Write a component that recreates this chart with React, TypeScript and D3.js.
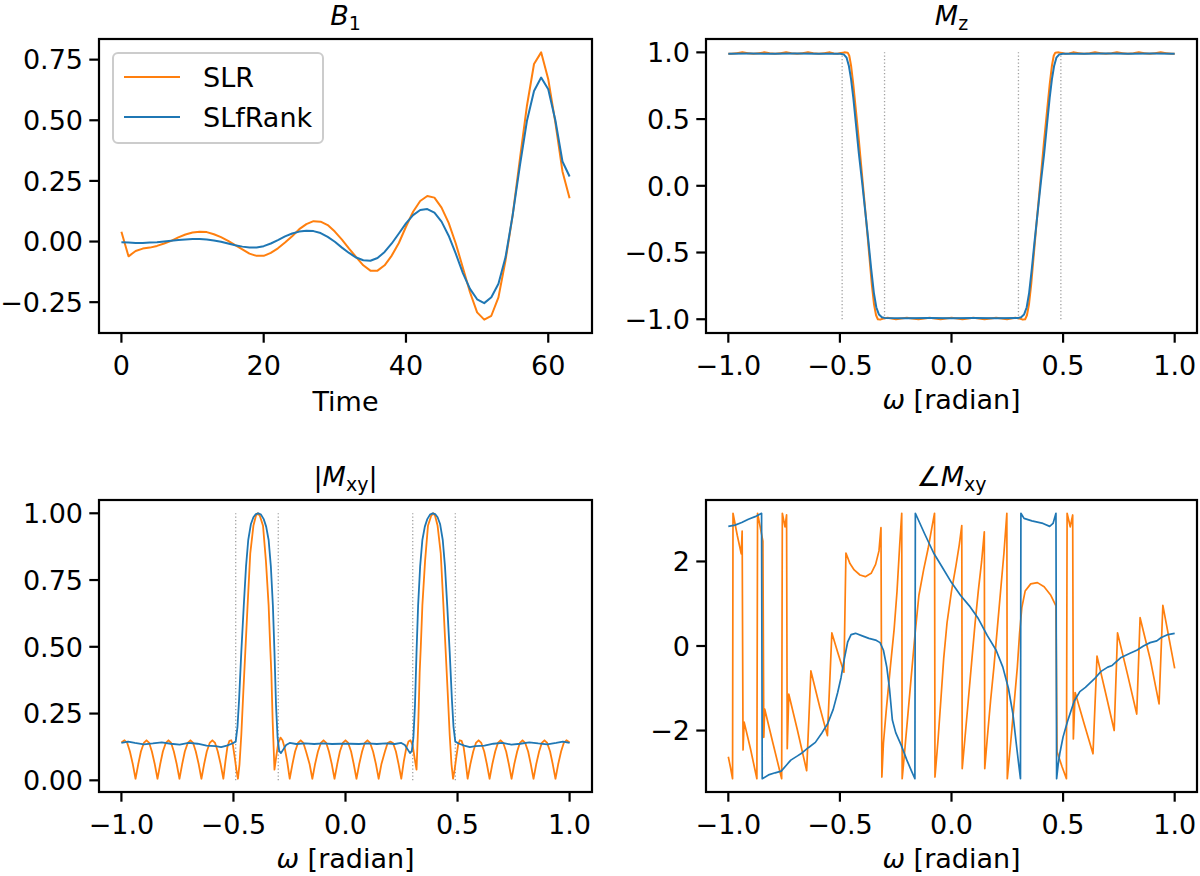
import React from "react";
import * as d3 from "d3";

// ---------------- DATA ----------------
// B1 waveforms, sample index 0..63
const B1_SLR = [
  0.04, -0.061, -0.039, -0.029, -0.025, -0.018, -0.008, 0.003, 0.017, 0.029,
  0.037, 0.04, 0.039, 0.03, 0.018, 0.003, -0.015, -0.032, -0.05, -0.059,
  -0.059, -0.047, -0.028, -0.004, 0.022, 0.051, 0.072, 0.084, 0.082, 0.068,
  0.041, 0.008, -0.029, -0.064, -0.098, -0.12, -0.12, -0.098, -0.058, -0.006,
  0.061, 0.123, 0.167, 0.188, 0.181, 0.14, 0.077, -0.008, -0.108, -0.209,
  -0.292, -0.322, -0.306, -0.23, -0.077, 0.109, 0.337, 0.559, 0.732, 0.78,
  0.669, 0.49, 0.289, 0.178,
];
const B1_SLFRANK = [
  -0.003, -0.004, -0.006, -0.006, -0.004, -0.003, 0.0, 0.003, 0.006, 0.008,
  0.01, 0.01, 0.008, 0.004, -0.001, -0.008, -0.015, -0.021, -0.025, -0.025,
  -0.019, -0.008, 0.006, 0.021, 0.033, 0.041, 0.044, 0.043, 0.035, 0.019,
  -0.001, -0.025, -0.047, -0.066, -0.077, -0.079, -0.068, -0.043, -0.008, 0.033,
  0.075, 0.109, 0.13, 0.134, 0.119, 0.082, 0.024, -0.05, -0.13, -0.195,
  -0.238, -0.254, -0.23, -0.174, -0.064, 0.109, 0.31, 0.497, 0.621, 0.676,
  0.628, 0.5, 0.33, 0.268,
];

// Mz vs omega: [omega, Mz]
const MZ_SLR: [number, number][] = [
  [-1.0, 0.99], [-0.986, 0.989], [-0.962, 0.994], [-0.937, 1.0], [-0.912, 0.994], [-0.888, 0.989],
  [-0.864, 0.994], [-0.839, 1.0], [-0.815, 0.994], [-0.79, 0.989], [-0.766, 0.994], [-0.741, 1.0],
  [-0.717, 0.994], [-0.692, 0.989], [-0.668, 0.994], [-0.643, 1.0], [-0.619, 0.994], [-0.594, 0.989],
  [-0.57, 0.994], [-0.545, 1.0], [-0.527, 0.992], [-0.51, 0.989], [-0.495, 0.996], [-0.48, 1.0],
  [-0.465, 0.998], [-0.458, 0.975], [-0.45, 0.9], [-0.44, 0.76], [-0.428, 0.56], [-0.415, 0.34],
  [-0.403, 0.12], [-0.392, -0.08], [-0.38, -0.3], [-0.368, -0.53], [-0.357, -0.74], [-0.347, -0.89],
  [-0.338, -0.97], [-0.33, -1.0], [-0.32, -1.003], [-0.305, -0.995], [-0.286, -0.989], [-0.267, -0.994],
  [-0.249, -1.0], [-0.225, -0.994], [-0.2, -0.989], [-0.176, -0.994], [-0.148, -1.0], [-0.123, -0.994],
  [-0.098, -0.989], [-0.074, -0.994], [-0.049, -1.0], [-0.025, -0.994], [0.0, -0.989], [0.025, -0.994],
  [0.049, -1.0], [0.074, -0.994], [0.098, -0.989], [0.123, -0.994], [0.148, -1.0], [0.176, -0.994],
  [0.2, -0.989], [0.225, -0.994], [0.249, -1.0], [0.267, -0.994], [0.286, -0.989], [0.305, -0.995],
  [0.32, -1.003], [0.33, -1.0], [0.338, -0.97], [0.347, -0.89], [0.357, -0.74], [0.368, -0.53],
  [0.38, -0.3], [0.392, -0.08], [0.403, 0.12], [0.415, 0.34], [0.428, 0.56], [0.44, 0.76],
  [0.45, 0.9], [0.458, 0.975], [0.465, 0.998], [0.48, 1.0], [0.495, 0.996], [0.51, 0.989],
  [0.527, 0.992], [0.545, 1.0], [0.57, 0.994], [0.594, 0.989], [0.619, 0.994], [0.643, 1.0],
  [0.668, 0.994], [0.692, 0.989], [0.717, 0.994], [0.741, 1.0], [0.766, 0.994], [0.79, 0.989],
  [0.815, 0.994], [0.839, 1.0], [0.864, 0.994], [0.888, 0.989], [0.912, 0.994], [0.937, 1.0],
  [0.962, 0.994], [0.986, 0.989], [1.0, 0.99],
];
const MZ_SLFRANK: [number, number][] = [
  [-1.0, 0.99], [-0.9, 0.991], [-0.8, 0.99], [-0.7, 0.991], [-0.6, 0.99], [-0.5, 0.99],
  [-0.483, 0.985], [-0.47, 0.96], [-0.46, 0.9], [-0.45, 0.8], [-0.44, 0.66], [-0.428, 0.46],
  [-0.415, 0.24], [-0.4, 0.02], [-0.386, -0.2], [-0.372, -0.42], [-0.36, -0.62], [-0.348, -0.8],
  [-0.337, -0.91], [-0.325, -0.965], [-0.312, -0.985], [-0.3, -0.99], [-0.2, -0.992], [-0.1, -0.991],
  [0.0, -0.992], [0.1, -0.991], [0.2, -0.992], [0.3, -0.99], [0.312, -0.985], [0.325, -0.965],
  [0.337, -0.91], [0.348, -0.8], [0.36, -0.62], [0.372, -0.42], [0.386, -0.2], [0.4, 0.02],
  [0.415, 0.24], [0.428, 0.46], [0.44, 0.66], [0.45, 0.8], [0.46, 0.9], [0.47, 0.96],
  [0.483, 0.985], [0.5, 0.99], [0.6, 0.99], [0.7, 0.991], [0.8, 0.99], [0.9, 0.991], [1.0, 0.99],
];

// |Mxy| vs omega
const MXY_SLR: [number, number][] = [
  [-1.0, 0.142], [-0.986, 0.15], [-0.974, 0.14], [-0.962, 0.108], [-0.949, 0.06], [-0.937, 0.006],
  [-0.925, 0.06], [-0.913, 0.108], [-0.9, 0.14], [-0.888, 0.15], [-0.876, 0.14], [-0.864, 0.108], [-0.851, 0.06], [-0.839, 0.006],
  [-0.827, 0.06], [-0.815, 0.108], [-0.802, 0.14], [-0.79, 0.15], [-0.778, 0.14], [-0.766, 0.108], [-0.753, 0.06], [-0.741, 0.006],
  [-0.729, 0.06], [-0.717, 0.108], [-0.704, 0.14], [-0.692, 0.15], [-0.68, 0.14], [-0.668, 0.108], [-0.655, 0.06], [-0.643, 0.006],
  [-0.631, 0.06], [-0.619, 0.108], [-0.606, 0.14], [-0.594, 0.15], [-0.582, 0.14], [-0.57, 0.108], [-0.557, 0.06], [-0.545, 0.006],
  [-0.536, 0.07], [-0.527, 0.125], [-0.518, 0.148], [-0.51, 0.15], [-0.503, 0.135], [-0.495, 0.09], [-0.487, 0.04], [-0.48, 0.006],
  [-0.473, 0.06], [-0.465, 0.17], [-0.456, 0.33], [-0.446, 0.5], [-0.437, 0.654], [-0.425, 0.85], [-0.411, 0.953], [-0.4, 0.99],
  [-0.392, 1.0], [-0.382, 0.99], [-0.368, 0.953], [-0.355, 0.82], [-0.343, 0.654], [-0.336, 0.5], [-0.331, 0.405], [-0.325, 0.22],
  [-0.317, 0.04], [-0.309, 0.09], [-0.3, 0.14], [-0.29, 0.16], [-0.281, 0.15], [-0.271, 0.12], [-0.26, 0.07], [-0.249, 0.006],
  [-0.237, 0.06], [-0.225, 0.108], [-0.212, 0.14], [-0.2, 0.15], [-0.188, 0.14], [-0.176, 0.108], [-0.16, 0.06], [-0.148, 0.006],
  [-0.136, 0.06], [-0.123, 0.108], [-0.11, 0.14], [-0.098, 0.15], [-0.086, 0.14], [-0.074, 0.108], [-0.061, 0.06], [-0.049, 0.006],
  [-0.037, 0.06], [-0.025, 0.108], [-0.012, 0.14], [0.0, 0.15], [0.012, 0.14], [0.025, 0.108], [0.037, 0.06], [0.049, 0.006],
  [0.061, 0.06], [0.074, 0.108], [0.086, 0.14], [0.098, 0.15], [0.11, 0.14], [0.123, 0.108], [0.136, 0.06], [0.148, 0.006],
  [0.16, 0.06], [0.176, 0.108], [0.188, 0.14], [0.2, 0.145], [0.212, 0.14], [0.225, 0.108], [0.237, 0.06], [0.249, 0.006],
  [0.26, 0.07], [0.271, 0.12], [0.281, 0.145], [0.29, 0.15], [0.3, 0.13], [0.309, 0.08], [0.317, 0.04],
  [0.325, 0.22], [0.331, 0.405], [0.336, 0.5], [0.343, 0.654], [0.355, 0.82], [0.368, 0.953], [0.382, 0.99], [0.392, 1.0],
  [0.4, 0.99], [0.411, 0.953], [0.425, 0.85], [0.437, 0.654], [0.446, 0.5], [0.456, 0.33], [0.465, 0.17], [0.473, 0.06], [0.48, 0.006],
  [0.487, 0.04], [0.495, 0.09], [0.503, 0.135], [0.51, 0.15], [0.518, 0.148], [0.527, 0.125], [0.536, 0.07], [0.545, 0.006],
  [0.557, 0.06], [0.57, 0.108], [0.582, 0.14], [0.594, 0.15], [0.606, 0.14], [0.619, 0.108], [0.631, 0.06], [0.643, 0.006],
  [0.655, 0.06], [0.668, 0.108], [0.68, 0.14], [0.692, 0.15], [0.704, 0.14], [0.717, 0.108], [0.729, 0.06], [0.741, 0.006],
  [0.753, 0.06], [0.766, 0.108], [0.778, 0.14], [0.79, 0.15], [0.802, 0.14], [0.815, 0.108], [0.827, 0.06], [0.839, 0.006],
  [0.851, 0.06], [0.864, 0.108], [0.876, 0.14], [0.888, 0.15], [0.9, 0.14], [0.913, 0.108], [0.925, 0.06], [0.937, 0.006],
  [0.949, 0.06], [0.962, 0.108], [0.974, 0.14], [0.986, 0.15], [1.0, 0.142],
];
const MXY_SLFRANK: [number, number][] = [
  [-1.0, 0.14], [-0.97, 0.145], [-0.94, 0.14], [-0.9, 0.135], [-0.86, 0.138], [-0.82, 0.142], [-0.78, 0.137],
  [-0.74, 0.134], [-0.7, 0.14], [-0.66, 0.137], [-0.62, 0.13], [-0.58, 0.128], [-0.555, 0.124], [-0.53, 0.13],
  [-0.505, 0.138], [-0.49, 0.145], [-0.482, 0.2], [-0.475, 0.3], [-0.465, 0.48], [-0.454, 0.654], [-0.444, 0.8],
  [-0.434, 0.9], [-0.422, 0.96], [-0.411, 0.985], [-0.4, 0.997], [-0.389, 1.0], [-0.377, 0.995], [-0.365, 0.978],
  [-0.354, 0.95], [-0.343, 0.9], [-0.333, 0.8], [-0.324, 0.654], [-0.317, 0.48], [-0.31, 0.28], [-0.303, 0.16],
  [-0.296, 0.11], [-0.288, 0.102], [-0.278, 0.115], [-0.265, 0.132], [-0.249, 0.14], [-0.22, 0.136], [-0.18, 0.138],
  [-0.14, 0.136], [-0.1, 0.138], [-0.06, 0.136], [-0.02, 0.137], [0.02, 0.137], [0.06, 0.136], [0.1, 0.138],
  [0.14, 0.136], [0.18, 0.138], [0.22, 0.136], [0.249, 0.14], [0.265, 0.132], [0.278, 0.115], [0.288, 0.102],
  [0.296, 0.11], [0.303, 0.16], [0.31, 0.28], [0.317, 0.48], [0.324, 0.654], [0.333, 0.8], [0.343, 0.9],
  [0.354, 0.95], [0.365, 0.978], [0.377, 0.995], [0.389, 1.0], [0.4, 0.997], [0.411, 0.985], [0.422, 0.96],
  [0.434, 0.9], [0.444, 0.8], [0.454, 0.654], [0.465, 0.48], [0.475, 0.3], [0.482, 0.2], [0.49, 0.145],
  [0.505, 0.138], [0.53, 0.13], [0.555, 0.124], [0.58, 0.128], [0.62, 0.13], [0.66, 0.137], [0.7, 0.14],
  [0.74, 0.134], [0.78, 0.137], [0.82, 0.142], [0.86, 0.138], [0.9, 0.135], [0.94, 0.14], [0.97, 0.145], [1.0, 0.14],
];

// angle(Mxy) vs omega
const PH_SLR: [number, number][] = [
  [-1.0, -2.62], [-0.99, -2.88], [-0.981, -3.14], [-0.979, 3.14], [-0.96, 2.62], [-0.942, 2.18],
  [-0.938, 2.72], [-0.934, -2.46], [-0.929, -1.8], [-0.9, -2.45], [-0.872, -3.14], [-0.869, 3.14],
  [-0.845, 2.48], [-0.841, -2.16], [-0.837, -1.49], [-0.8, -2.3], [-0.761, -3.14], [-0.758, 3.14],
  [-0.746, 2.82], [-0.739, 3.1], [-0.736, -2.43], [-0.729, -1.14], [-0.69, -2.0], [-0.649, -2.95],
  [-0.63, -0.59], [-0.59, -1.45], [-0.556, -2.12], [-0.536, 0.31], [-0.51, -0.15], [-0.482, -0.62],
  [-0.473, 2.2], [-0.455, 1.95], [-0.436, 1.8], [-0.41, 1.68], [-0.386, 1.64], [-0.36, 1.72],
  [-0.34, 1.93], [-0.325, 2.25], [-0.316, 2.8], [-0.312, -3.1], [-0.305, -2.3], [-0.292, -1.5],
  [-0.274, -0.5], [-0.257, 0.4], [-0.244, 1.3], [-0.232, 2.4], [-0.223, 3.14], [-0.221, -3.14],
  [-0.21, -2.5], [-0.195, -1.6], [-0.18, -0.7], [-0.163, 0.3], [-0.146, 1.2], [-0.125, 1.8],
  [-0.105, 2.3], [-0.088, 2.8], [-0.076, 3.14], [-0.074, -3.1], [-0.06, -2.2], [-0.048, -1.3],
  [-0.035, -0.3], [-0.02, 0.55], [0.0, 1.3], [0.02, 1.9], [0.035, 2.4], [0.046, 2.85],
  [0.048, -2.9], [0.06, -2.2], [0.075, -1.3], [0.09, -0.4], [0.105, 0.5], [0.12, 1.3],
  [0.135, 2.0], [0.147, 2.7], [0.149, -2.9], [0.16, -2.2], [0.175, -1.3], [0.19, -0.5],
  [0.205, 0.4], [0.22, 1.3], [0.235, 2.2], [0.248, 3.14], [0.25, -3.14], [0.265, -2.3],
  [0.28, -1.4], [0.295, -0.5], [0.305, 0.3], [0.315, 0.9], [0.33, 1.3], [0.355, 1.47],
  [0.385, 1.5], [0.415, 1.4], [0.445, 1.2], [0.468, 0.95], [0.473, -2.5], [0.495, -2.85],
  [0.515, -3.14], [0.518, 3.14], [0.532, 2.82], [0.543, 3.1], [0.546, -2.2], [0.554, -1.1],
  [0.595, -1.85], [0.634, -2.55], [0.652, -0.24], [0.69, -1.1], [0.729, -2.0], [0.744, 0.31],
  [0.79, -0.7], [0.83, -1.61], [0.845, 0.67], [0.89, -0.3], [0.93, -1.37], [0.947, 0.96], [1.0, -0.53],
];
const PH_SLFRANK: [number, number][] = [
  [-1.0, 2.83], [-0.97, 2.86], [-0.94, 2.92], [-0.91, 3.0], [-0.88, 3.06], [-0.851, 3.14],
  [-0.848, -3.14], [-0.82, -3.05], [-0.79, -3.0], [-0.763, -2.96], [-0.74, -2.82], [-0.72, -2.7],
  [-0.69, -2.6], [-0.67, -2.53], [-0.64, -2.4], [-0.61, -2.28], [-0.58, -2.05], [-0.555, -1.84],
  [-0.53, -1.5], [-0.51, -1.1], [-0.495, -0.75], [-0.48, -0.3], [-0.465, 0.1], [-0.45, 0.27],
  [-0.43, 0.3], [-0.4, 0.24], [-0.37, 0.18], [-0.34, 0.14], [-0.32, 0.08], [-0.305, -0.1],
  [-0.29, -0.5], [-0.278, -1.0], [-0.265, -1.75], [-0.25, -2.05], [-0.225, -2.35], [-0.2, -2.7],
  [-0.18, -2.95], [-0.164, -3.14], [-0.162, 3.14], [-0.12, 2.65], [-0.08, 2.2], [-0.04, 1.85],
  [0.0, 1.5], [0.04, 1.2], [0.08, 0.95], [0.12, 0.65], [0.16, 0.25], [0.2, -0.1],
  [0.23, -0.5], [0.255, -1.0], [0.275, -1.6], [0.29, -2.3], [0.3, -2.75], [0.309, -3.14],
  [0.311, 3.14], [0.325, 3.02], [0.36, 2.96], [0.41, 2.9], [0.44, 2.83], [0.455, 2.9],
  [0.468, 3.14], [0.471, -3.14], [0.478, -2.8], [0.485, -2.55], [0.5, -2.15], [0.52, -1.78],
  [0.55, -1.3], [0.575, -1.08], [0.6, -0.98], [0.64, -0.78], [0.67, -0.6], [0.7, -0.5],
  [0.72, -0.46], [0.76, -0.27], [0.8, -0.17], [0.83, -0.1], [0.86, 0.0], [0.89, 0.08],
  [0.92, 0.12], [0.94, 0.2], [0.97, 0.27], [1.0, 0.3],
];

// band edges (dotted guide lines)
const MZ_EDGES = [-0.49, -0.3, 0.3, 0.49];
const MXY_EDGES = [-0.49, -0.3, 0.3, 0.49];

// ticks
const B1_XTICKS = [0, 20, 40, 60];
const B1_YTICKS = [-0.25, 0, 0.25, 0.5, 0.75];
const W_TICKS = [-1, -0.5, 0, 0.5, 1];
const MZ_YTICKS = [-1, -0.5, 0, 0.5, 1];
const MXY_YTICKS = [0, 0.25, 0.5, 0.75, 1];
const PH_YTICKS = [-2, 0, 2];

const SERIES_NAMES = ["SLR", "SLfRank"];
const COLORS = ["#ff7f0e", "#1f77b4"];

// ---------------- RENDERING ----------------
const FONT = "'DejaVu Sans', 'Liberation Sans', sans-serif";
const FS = 27;
const SUB = 19;
const AXW = 2.2;
const TICKLEN = 9.7;

type Box = { left: number; right: number; top: number; bottom: number };
type Pt = [number, number];

const fmt = (d: number, digits: number) => (d < 0 ? "\u2212" : "") + Math.abs(d).toFixed(digits);

function padded(vals: number[]): [number, number] {
  const lo = d3.min(vals) as number;
  const hi = d3.max(vals) as number;
  const p = (hi - lo) * 0.05;
  return [lo - p, hi + p];
}

interface PanelProps {
  box: Box;
  series: Pt[][];
  xTicks: number[];
  xFmt: (d: number) => string;
  yTicks: number[];
  yFmt: (d: number) => string;
  title: React.ReactNode;
  xlabel: React.ReactNode;
  xlabelDy: number;
  vlines?: number[];
  vlineRange?: [number, number];
  lw: number;
  legend?: boolean;
  id: string;
}

function Panel(p: PanelProps) {
  const { box } = p;
  const allX = p.series.flatMap((s) => s.map((d) => d[0]));
  const allY = p.series.flatMap((s) => s.map((d) => d[1]));
  const x = d3.scaleLinear().domain(padded(allX)).range([box.left, box.right]);
  const y = d3.scaleLinear().domain(padded(allY)).range([box.bottom, box.top]);
  const line = d3
    .line<Pt>()
    .x((d) => x(d[0]))
    .y((d) => y(d[1]));
  const cx = (box.left + box.right) / 2;
  return (
    <g>
      <defs>
        <clipPath id={`clip-${p.id}`}>
          <rect x={box.left} y={box.top} width={box.right - box.left} height={box.bottom - box.top} />
        </clipPath>
      </defs>
      <g clipPath={`url(#clip-${p.id})`}>
        {p.vlines &&
          p.vlines.map((v, i) => (
            <line
              key={`v${i}`}
              x1={x(v)}
              x2={x(v)}
              y1={y(p.vlineRange![0])}
              y2={y(p.vlineRange![1])}
              stroke="#a0a0a0"
              strokeWidth={1.3}
              strokeDasharray="1.3 2.2"
            />
          ))}
        {p.series.map((s, i) => (
          <path
            key={i}
            d={line(s) || ""}
            fill="none"
            stroke={COLORS[i]}
            strokeWidth={p.lw}
            strokeLinejoin="round"
            strokeLinecap="butt"
          />
        ))}
      </g>
      <rect
        x={box.left}
        y={box.top}
        width={box.right - box.left}
        height={box.bottom - box.top}
        fill="none"
        stroke="#000"
        strokeWidth={AXW}
      />
      {p.xTicks.map((t) => (
        <g key={`xt${t}`}>
          <line x1={x(t)} x2={x(t)} y1={box.bottom} y2={box.bottom + TICKLEN} stroke="#000" strokeWidth={AXW} />
          <text x={x(t)} y={box.bottom + 42} textAnchor="middle" fontFamily={FONT} fontSize={FS} fill="#000">
            {p.xFmt(t)}
          </text>
        </g>
      ))}
      {p.yTicks.map((t) => (
        <g key={`yt${t}`}>
          <line x1={box.left - TICKLEN} x2={box.left} y1={y(t)} y2={y(t)} stroke="#000" strokeWidth={AXW} />
          <text x={box.left - 16} y={y(t) + 9.8} textAnchor="end" fontFamily={FONT} fontSize={FS} fill="#000">
            {p.yFmt(t)}
          </text>
        </g>
      ))}
      <text x={cx} y={box.top - 14} textAnchor="middle" fontFamily={FONT} fontSize={FS} fill="#000">
        {p.title}
      </text>
      <text
        x={cx}
        y={box.bottom + 78 + p.xlabelDy}
        textAnchor="middle"
        fontFamily={FONT}
        fontSize={FS}
        fill="#000"
      >
        {p.xlabel}
      </text>
      {p.legend && (
        <g>
          <rect
            x={box.left + 14}
            y={box.top + 14}
            width={210}
            height={90}
            rx={5}
            ry={5}
            fill="#ffffff"
            fillOpacity={0.8}
            stroke="#cccccc"
            strokeWidth={2}
          />
          {SERIES_NAMES.map((name, i) => {
            const ly = box.top + 38 + i * 40;
            return (
              <g key={name}>
                <line x1={box.left + 25} x2={box.left + 81} y1={ly} y2={ly} stroke={COLORS[i]} strokeWidth={p.lw} />
                <text x={box.left + 104} y={ly + 9.8} fontFamily={FONT} fontSize={FS} fill="#000">
                  {name}
                </text>
              </g>
            );
          })}
        </g>
      )}
    </g>
  );
}

const omegaLabel = (
  <>
    <tspan fontStyle="italic">ω</tspan>
    <tspan> [radian]</tspan>
  </>
);

export default function App() {
  const b1Series: Pt[][] = [
    B1_SLR.map((v, i) => [i, v] as Pt),
    B1_SLFRANK.map((v, i) => [i, v] as Pt),
  ];
  const f2 = (d: number) => fmt(d, 2);
  const f1 = (d: number) => fmt(d, 1);
  const f0 = (d: number) => fmt(d, 0);
  return (
    <svg
      width={1200}
      height={876}
      viewBox="0 0 1200 876"
      style={{ position: "absolute", left: 0, top: 0, background: "#fff" }}
    >
      <rect x={0} y={0} width={1200} height={876} fill="#fff" />
      <Panel
        id="b1"
        box={{ left: 99, right: 592, top: 39, bottom: 333 }}
        series={b1Series}
        xTicks={B1_XTICKS}
        xFmt={f0}
        yTicks={B1_YTICKS}
        yFmt={f2}
        title={
          <>
            <tspan fontStyle="italic">B</tspan>
            <tspan fontSize={SUB} dy={5}>1</tspan>
          </>
        }
        xlabel="Time"
        xlabelDy={0}
        lw={2}
        legend
      />
      <Panel
        id="mz"
        box={{ left: 706, right: 1197, top: 39, bottom: 333 }}
        series={[MZ_SLR, MZ_SLFRANK]}
        xTicks={W_TICKS}
        xFmt={f1}
        yTicks={MZ_YTICKS}
        yFmt={f1}
        title={
          <>
            <tspan fontStyle="italic">M</tspan>
            <tspan fontSize={SUB} dy={5}>z</tspan>
          </>
        }
        xlabel={omegaLabel}
        xlabelDy={-2}
        vlines={MZ_EDGES}
        vlineRange={[-1, 1]}
        lw={2}
      />
      <Panel
        id="mxy"
        box={{ left: 99, right: 592, top: 500, bottom: 792 }}
        series={[MXY_SLR, MXY_SLFRANK]}
        xTicks={W_TICKS}
        xFmt={f1}
        yTicks={MXY_YTICKS}
        yFmt={f2}
        title={
          <>
            <tspan>|</tspan>
            <tspan fontStyle="italic">M</tspan>
            <tspan fontSize={SUB} dy={5}>xy</tspan>
            <tspan dy={-5}>|</tspan>
          </>
        }
        xlabel={omegaLabel}
        xlabelDy={-2}
        vlines={MXY_EDGES}
        vlineRange={[0, 1]}
        lw={1.8}
      />
      <Panel
        id="ph"
        box={{ left: 706, right: 1197, top: 500, bottom: 792 }}
        series={[PH_SLR, PH_SLFRANK]}
        xTicks={W_TICKS}
        xFmt={f1}
        yTicks={PH_YTICKS}
        yFmt={f0}
        title={
          <>
            <tspan>∠</tspan>
            <tspan fontStyle="italic">M</tspan>
            <tspan fontSize={SUB} dy={5}>xy</tspan>
          </>
        }
        xlabel={omegaLabel}
        xlabelDy={-2}
        lw={1.7}
      />
    </svg>
  );
}
